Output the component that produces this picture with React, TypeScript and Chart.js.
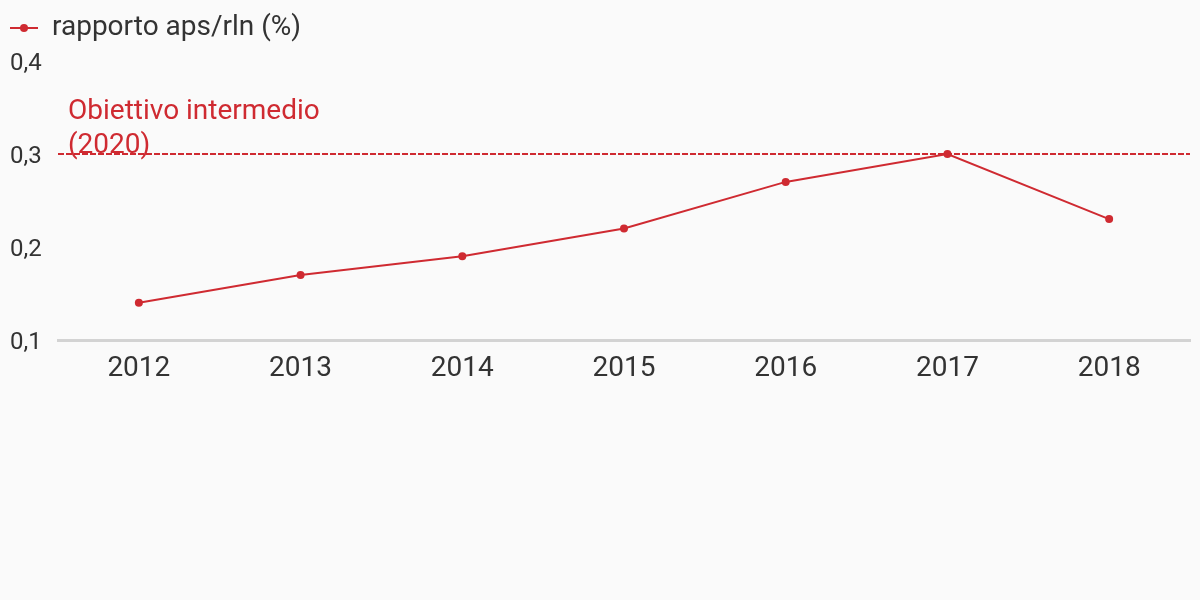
import React, { useEffect, useRef } from "react";
import { Chart, registerables } from "chart.js";

Chart.register(...registerables);

const categories = ["2012", "2013", "2014", "2015", "2016", "2017", "2018"];
const ratioValues = [0.14, 0.17, 0.19, 0.22, 0.27, 0.3, 0.23];
const yTicks = [0.1, 0.2, 0.3, 0.4];
const seriesLabel = "rapporto aps/rln (%)";
const targetValue = 0.3;
const targetLabel = ["Obiettivo intermedio", "(2020)"];

const RED = "#cf2a31";
const TEXT = "#333333";
const FONT = "Roboto, 'Noto Sans', sans-serif";

export default function App() {
  const ref = useRef<HTMLCanvasElement | null>(null);

  useEffect(() => {
    document.body.style.margin = "0";
    document.body.style.background = "#fafafa";
    const canvas = ref.current;
    if (!canvas) return;

    const overlay = {
      id: "overlay",
      beforeDatasetsDraw(chart: any) {
        const { ctx, chartArea, scales } = chart;
        const y = scales.y.getPixelForValue(targetValue);
        ctx.save();
        ctx.strokeStyle = RED;
        ctx.lineWidth = 2;
        ctx.setLineDash([6, 2]);
        ctx.beginPath();
        ctx.moveTo(chartArea.left, y);
        ctx.lineTo(chartArea.right, y);
        ctx.stroke();
        ctx.setLineDash([]);
        ctx.fillStyle = RED;
        ctx.font = `28px ${FONT}`;
        ctx.textBaseline = "middle";
        ctx.textAlign = "left";
        ctx.fillText(targetLabel[0], chartArea.left + 10, y - 42);
        ctx.fillText(targetLabel[1], chartArea.left + 10, y - 8);
        ctx.restore();
      },
      afterDraw(chart: any) {
        const { ctx } = chart;
        ctx.save();
        ctx.strokeStyle = RED;
        ctx.lineWidth = 2;
        ctx.beginPath();
        ctx.moveTo(10, 28);
        ctx.lineTo(38, 28);
        ctx.stroke();
        ctx.fillStyle = RED;
        ctx.beginPath();
        ctx.arc(24, 28, 4, 0, Math.PI * 2);
        ctx.fill();
        ctx.fillStyle = TEXT;
        ctx.font = `28px ${FONT}`;
        ctx.textBaseline = "middle";
        ctx.textAlign = "left";
        ctx.fillText(seriesLabel, 52, 28);
        ctx.restore();
      },
    };

    const chart = new Chart(canvas, {
      type: "line",
      data: {
        labels: categories,
        datasets: [
          {
            label: seriesLabel,
            data: ratioValues,
            borderColor: RED,
            backgroundColor: RED,
            borderWidth: 2,
            pointRadius: 4,
            pointHoverRadius: 4,
            pointBackgroundColor: RED,
            pointBorderWidth: 0,
            tension: 0,
          },
        ],
      },
      options: {
        animation: false,
        responsive: false,
        maintainAspectRatio: false,
        layout: { padding: { left: 10, right: 10, top: 61, bottom: 200 } },
        plugins: { legend: { display: false }, tooltip: { enabled: false } },
        scales: {
          x: {
            offset: true,
            grid: { display: false, drawTicks: false },
            border: { display: true, color: "#d3d3d3", width: 3 },
            ticks: {
              color: TEXT,
              font: { family: FONT, size: 28 },
              padding: 12,
              maxRotation: 0,
            },
            afterFit: (s: any) => {
              s.height = 60;
            },
          },
          y: {
            min: 0.1,
            max: 0.4,
            afterBuildTicks: (s: any) => {
              s.ticks = yTicks.map((v) => ({ value: v }));
            },
            grid: { display: false, drawTicks: false },
            border: { display: false },
            ticks: {
              color: TEXT,
              font: { family: FONT, size: 24 },
              crossAlign: "far",
              padding: 10,
              labelOffset: 3,
              callback: (v: any) => Number(v).toFixed(1).replace(".", ","),
            },
            afterFit: (s: any) => {
              s.width = 48;
            },
          },
        },
      },
      plugins: [overlay],
    });
    return () => chart.destroy();
  }, []);

  return (
    <div style={{ position: "fixed", left: 0, top: 0, width: 1200, height: 600, background: "#fafafa" }}>
      <canvas ref={ref} width={1200} height={600} style={{ width: 1200, height: 600 }} />
    </div>
  );
}
